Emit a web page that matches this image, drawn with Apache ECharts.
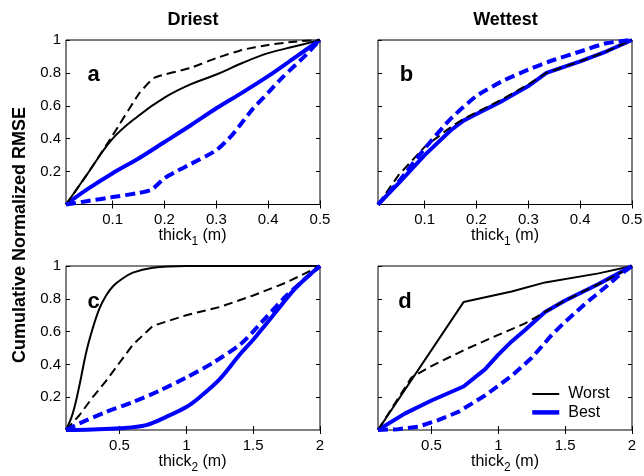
<!DOCTYPE html>
<html>
<head>
<meta charset="utf-8">
<script src="https://cdn.jsdelivr.net/npm/echarts@6/dist/echarts.min.js"></script>
<style>
  html, body { margin: 0; padding: 0; background: #fff; }
  #chart { width: 644px; height: 476px; }
</style>
</head>
<body>
<div id="chart"></div>
<script>
// Tick values
const thick1Ticks = [0.1, 0.2, 0.3, 0.4, 0.5];
const thick2Ticks = [0.5, 1, 1.5, 2];
const rmseTicks = [0.2, 0.4, 0.6, 0.8, 1];

// Column and row headings, panel letters
const columnTitles = ['Driest', 'Wettest'];
const panelLetters = ['a', 'b', 'c', 'd'];
const legendNames = ['Worst', 'Best'];

// Panel a: driest, thick1 [thickness (m), cumulative normalized RMSE]
const aWorst = [[0.01, 0], [0.05, 0.18], [0.1, 0.4], [0.15, 0.54], [0.2, 0.65], [0.25, 0.73], [0.3, 0.79], [0.35, 0.86], [0.4, 0.92], [0.45, 0.96], [0.5, 1]];
const aBest = [[0.01, 0], [0.05, 0.09], [0.1, 0.19], [0.15, 0.28], [0.2, 0.38], [0.25, 0.48], [0.3, 0.585], [0.35, 0.68], [0.4, 0.78], [0.45, 0.89], [0.5, 1]];
const aWorstAlt = [[0.01, 0], [0.05, 0.18], [0.1, 0.42], [0.15, 0.67], [0.18, 0.77], [0.25, 0.83], [0.3, 0.89], [0.35, 0.94], [0.4, 0.97], [0.45, 0.99], [0.5, 1]];
const aBestAlt = [[0.01, 0], [0.05, 0.02], [0.1, 0.045], [0.15, 0.07], [0.175, 0.09], [0.2, 0.16], [0.225, 0.205], [0.25, 0.245], [0.3, 0.33], [0.33, 0.42], [0.35, 0.5], [0.37, 0.58], [0.4, 0.68], [0.43, 0.78], [0.47, 0.9], [0.5, 1]];

// Panel b: wettest, thick1
const bWorst = [[0.01, 0], [0.05, 0.13], [0.1, 0.3], [0.15, 0.45], [0.175, 0.51], [0.2, 0.55], [0.25, 0.63], [0.3, 0.72], [0.335, 0.8], [0.4, 0.87], [0.45, 0.93], [0.5, 1]];
const bBest = [[0.01, 0], [0.05, 0.13], [0.1, 0.3], [0.15, 0.45], [0.175, 0.51], [0.2, 0.55], [0.25, 0.63], [0.3, 0.72], [0.335, 0.8], [0.4, 0.87], [0.45, 0.93], [0.5, 1]];
const bWorstAlt = [[0.01, 0], [0.05, 0.18], [0.1, 0.35], [0.15, 0.47], [0.175, 0.52], [0.2, 0.56], [0.25, 0.64], [0.3, 0.73], [0.335, 0.8], [0.4, 0.87], [0.45, 0.93], [0.5, 1]];
const bBestAlt = [[0.01, 0], [0.05, 0.14], [0.1, 0.34], [0.15, 0.52], [0.2, 0.66], [0.25, 0.75], [0.3, 0.82], [0.35, 0.88], [0.4, 0.93], [0.45, 0.98], [0.5, 1]];

// Panel c: driest, thick2
const cWorst = [[0.1, 0], [0.15, 0.1], [0.2, 0.27], [0.25, 0.47], [0.3, 0.62], [0.35, 0.74], [0.4, 0.82], [0.45, 0.875], [0.5, 0.91], [0.6, 0.96], [0.75, 0.99], [1, 1], [1.5, 1], [2, 1]];
const cBest = [[0.1, 0], [0.3, 0.003], [0.5, 0.01], [0.7, 0.03], [0.85, 0.08], [1, 0.14], [1.1, 0.2], [1.25, 0.31], [1.4, 0.46], [1.5, 0.55], [1.6, 0.65], [1.7, 0.75], [1.8, 0.85], [1.9, 0.93], [2, 1]];
const cWorstAlt = [[0.1, 0], [0.2, 0.09], [0.3, 0.2], [0.4, 0.3], [0.5, 0.41], [0.6, 0.52], [0.75, 0.635], [1, 0.7], [1.25, 0.75], [1.5, 0.82], [1.75, 0.9], [2, 1]];
const cBestAlt = [[0.1, 0], [0.2, 0.04], [0.4, 0.11], [0.6, 0.17], [0.8, 0.24], [1, 0.32], [1.2, 0.41], [1.4, 0.52], [1.5, 0.6], [1.6, 0.69], [1.75, 0.82], [1.9, 0.93], [2, 1]];

// Panel d: wettest, thick2
const dWorst = [[0.1, 0], [0.74, 0.78], [1.1, 0.845], [1.35, 0.9], [1.75, 0.955], [2, 1]];
const dBest = [[0.1, 0], [0.3, 0.1], [0.5, 0.18], [0.74, 0.265], [0.9, 0.37], [1, 0.46], [1.1, 0.54], [1.2, 0.61], [1.35, 0.72], [1.5, 0.79], [1.75, 0.89], [2, 1]];
const dWorstAlt = [[0.1, 0], [0.35, 0.32], [0.5, 0.39], [0.75, 0.49], [1, 0.58], [1.2, 0.65], [1.35, 0.72], [1.5, 0.79], [1.7, 0.87], [1.85, 0.93], [2, 1]];
const dBestAlt = [[0.1, 0], [0.25, 0.005], [0.4, 0.02], [0.55, 0.06], [0.7, 0.11], [0.9, 0.21], [1, 0.27], [1.1, 0.33], [1.25, 0.44], [1.4, 0.58], [1.5, 0.66], [1.65, 0.77], [1.8, 0.87], [1.9, 0.94], [2, 1]];

const FONT = '"Liberation Sans", Arial, Helvetica, sans-serif';
const BLUE = '#0000ff';

const panels = [
  { box: { left: 66, top: 40, width: 254, height: 164.5 }, xMin: 0.01, xMax: 0.5, xTicks: thick1Ticks, showY: true,
    lines: [aWorst, aBest, aWorstAlt, aBestAlt], smooth: [0.4, 0.3, 0.15, 0.2] },
  { box: { left: 378, top: 40, width: 254, height: 164.5 }, xMin: 0.01, xMax: 0.5, xTicks: thick1Ticks, showY: false,
    lines: [bWorst, bBest, bWorstAlt, bBestAlt], smooth: [0, 0, 0, 0.2] },
  { box: { left: 66, top: 266, width: 254, height: 164 }, xMin: 0.1, xMax: 2, xTicks: thick2Ticks, showY: true,
    lines: [cWorst, cBest, cWorstAlt, cBestAlt], smooth: [0.4, 0.35, 0, 0.25] },
  { box: { left: 378, top: 266, width: 254, height: 164 }, xMin: 0.1, xMax: 2, xTicks: thick2Ticks, showY: false,
    lines: [dWorst, dBest, dWorstAlt, dBestAlt], smooth: [0, 0, 0, 0] }
];

// draw order: worst solid, best solid, worst dashed, best dashed
const lineStyles = [
  { name: legendNames[0], color: '#000', width: 2, type: 'solid' },
  { name: legendNames[1], color: BLUE, width: 4, type: 'solid' },
  { name: 'Worst, alt.', color: '#000', width: 2, type: [9, 5] },
  { name: 'Best, alt.', color: BLUE, width: 4, type: [10, 5] }
];

const grid = [], xAxis = [], yAxis = [], series = [];
const tickStyle = { show: true, inside: true, length: 4, lineStyle: { color: '#000', width: 1 } };
const labelStyle = { color: '#000', fontFamily: FONT, fontSize: 15 };

panels.forEach((p, i) => {
  grid.push(Object.assign({ show: true, borderColor: '#000', borderWidth: 1, backgroundColor: '#fff', outerBoundsMode: 'none', containLabel: false }, p.box));
  // bottom axis with labels, mirrored top axis with ticks only
  xAxis.push({
    type: 'value', gridIndex: i, position: 'bottom', min: p.xMin, max: p.xMax,
    axisLine: { show: false }, splitLine: { show: false },
    axisTick: Object.assign({ customValues: p.xTicks }, tickStyle),
    axisLabel: Object.assign({ customValues: p.xTicks, margin: 8 }, labelStyle)
  });
  xAxis.push({
    type: 'value', gridIndex: i, position: 'top', min: p.xMin, max: p.xMax,
    axisLine: { show: false }, splitLine: { show: false },
    axisTick: Object.assign({ customValues: p.xTicks }, tickStyle),
    axisLabel: { show: false }
  });
  yAxis.push({
    type: 'value', gridIndex: i, position: 'left', min: 0, max: 1,
    axisLine: { show: false }, splitLine: { show: false },
    axisTick: Object.assign({ customValues: rmseTicks }, tickStyle),
    axisLabel: Object.assign({ show: p.showY, customValues: rmseTicks, margin: 5 }, labelStyle)
  });
  yAxis.push({
    type: 'value', gridIndex: i, position: 'right', min: 0, max: 1,
    axisLine: { show: false }, splitLine: { show: false },
    axisTick: Object.assign({ customValues: rmseTicks }, tickStyle),
    axisLabel: { show: false }
  });
  p.lines.forEach((data, k) => {
    const s = lineStyles[k];
    series.push({
      type: 'line', name: s.name, data: data,
      xAxisIndex: 2 * i, yAxisIndex: 2 * i,
      symbol: 'none', smooth: p.smooth[k], clip: false,
      color: s.color,
      lineStyle: { color: s.color, width: s.width, type: s.type, cap: 'butt', join: 'round' },
      z: 2 + k
    });
  });
});

// subscripted axis titles
const axisNameRich = {
  m: { fontFamily: FONT, fontSize: 16, lineHeight: 22, fill: '#000' },
  s: { fontFamily: FONT, fontSize: 12, lineHeight: 10, padding: [12, 0, 0, 0], fill: '#000' }
};
function axisName(x, y, sub) {
  return { type: 'text', x: x, y: y, style: { text: '{m|thick}{s|' + sub + '}{m| (m)}', rich: axisNameRich, align: 'center', verticalAlign: 'middle' } };
}
function boldText(x, y, text, size, rotation) {
  return { type: 'text', x: x, y: y, rotation: rotation || 0,
    style: { text: text, fontFamily: FONT, fontWeight: 'bold', fontSize: size, fill: '#000', align: 'center', verticalAlign: 'middle' } };
}

const graphic = [
  boldText(193, 20.5, columnTitles[0], 18),
  boldText(505.5, 20.5, columnTitles[1], 18),
  boldText(20.5, 235, 'Cumulative Normalized RMSE', 18, Math.PI / 2),
  boldText(93.5, 75, panelLetters[0], 22),
  boldText(406.5, 75, panelLetters[1], 22),
  boldText(93.5, 301.5, panelLetters[2], 22),
  boldText(405, 301.5, panelLetters[3], 22),
  axisName(192.5, 236, '1'),
  axisName(505, 236, '1'),
  axisName(192.5, 462, '2'),
  axisName(505, 462, '2')
];

const chart = echarts.init(document.getElementById('chart'), null, { renderer: 'canvas' });
chart.setOption({
  animation: false,
  backgroundColor: '#fff',
  grid: grid,
  xAxis: xAxis,
  yAxis: yAxis,
  series: series,
  graphic: graphic,
  legend: {
    data: [
      { name: legendNames[0], lineStyle: { width: 2 } },
      { name: legendNames[1], lineStyle: { width: 4.5 } }
    ],
    orient: 'vertical',
    left: 530, top: 386, padding: 0,
    itemWidth: 27, itemHeight: 16, itemGap: 2.4,
    itemStyle: { opacity: 0 },
    textStyle: { fontFamily: FONT, fontSize: 16, color: '#000', lineHeight: 16, padding: [0, 0, 0, 4] },
    inactiveColor: '#ccc'
  }
});
</script>
</body>
</html>
